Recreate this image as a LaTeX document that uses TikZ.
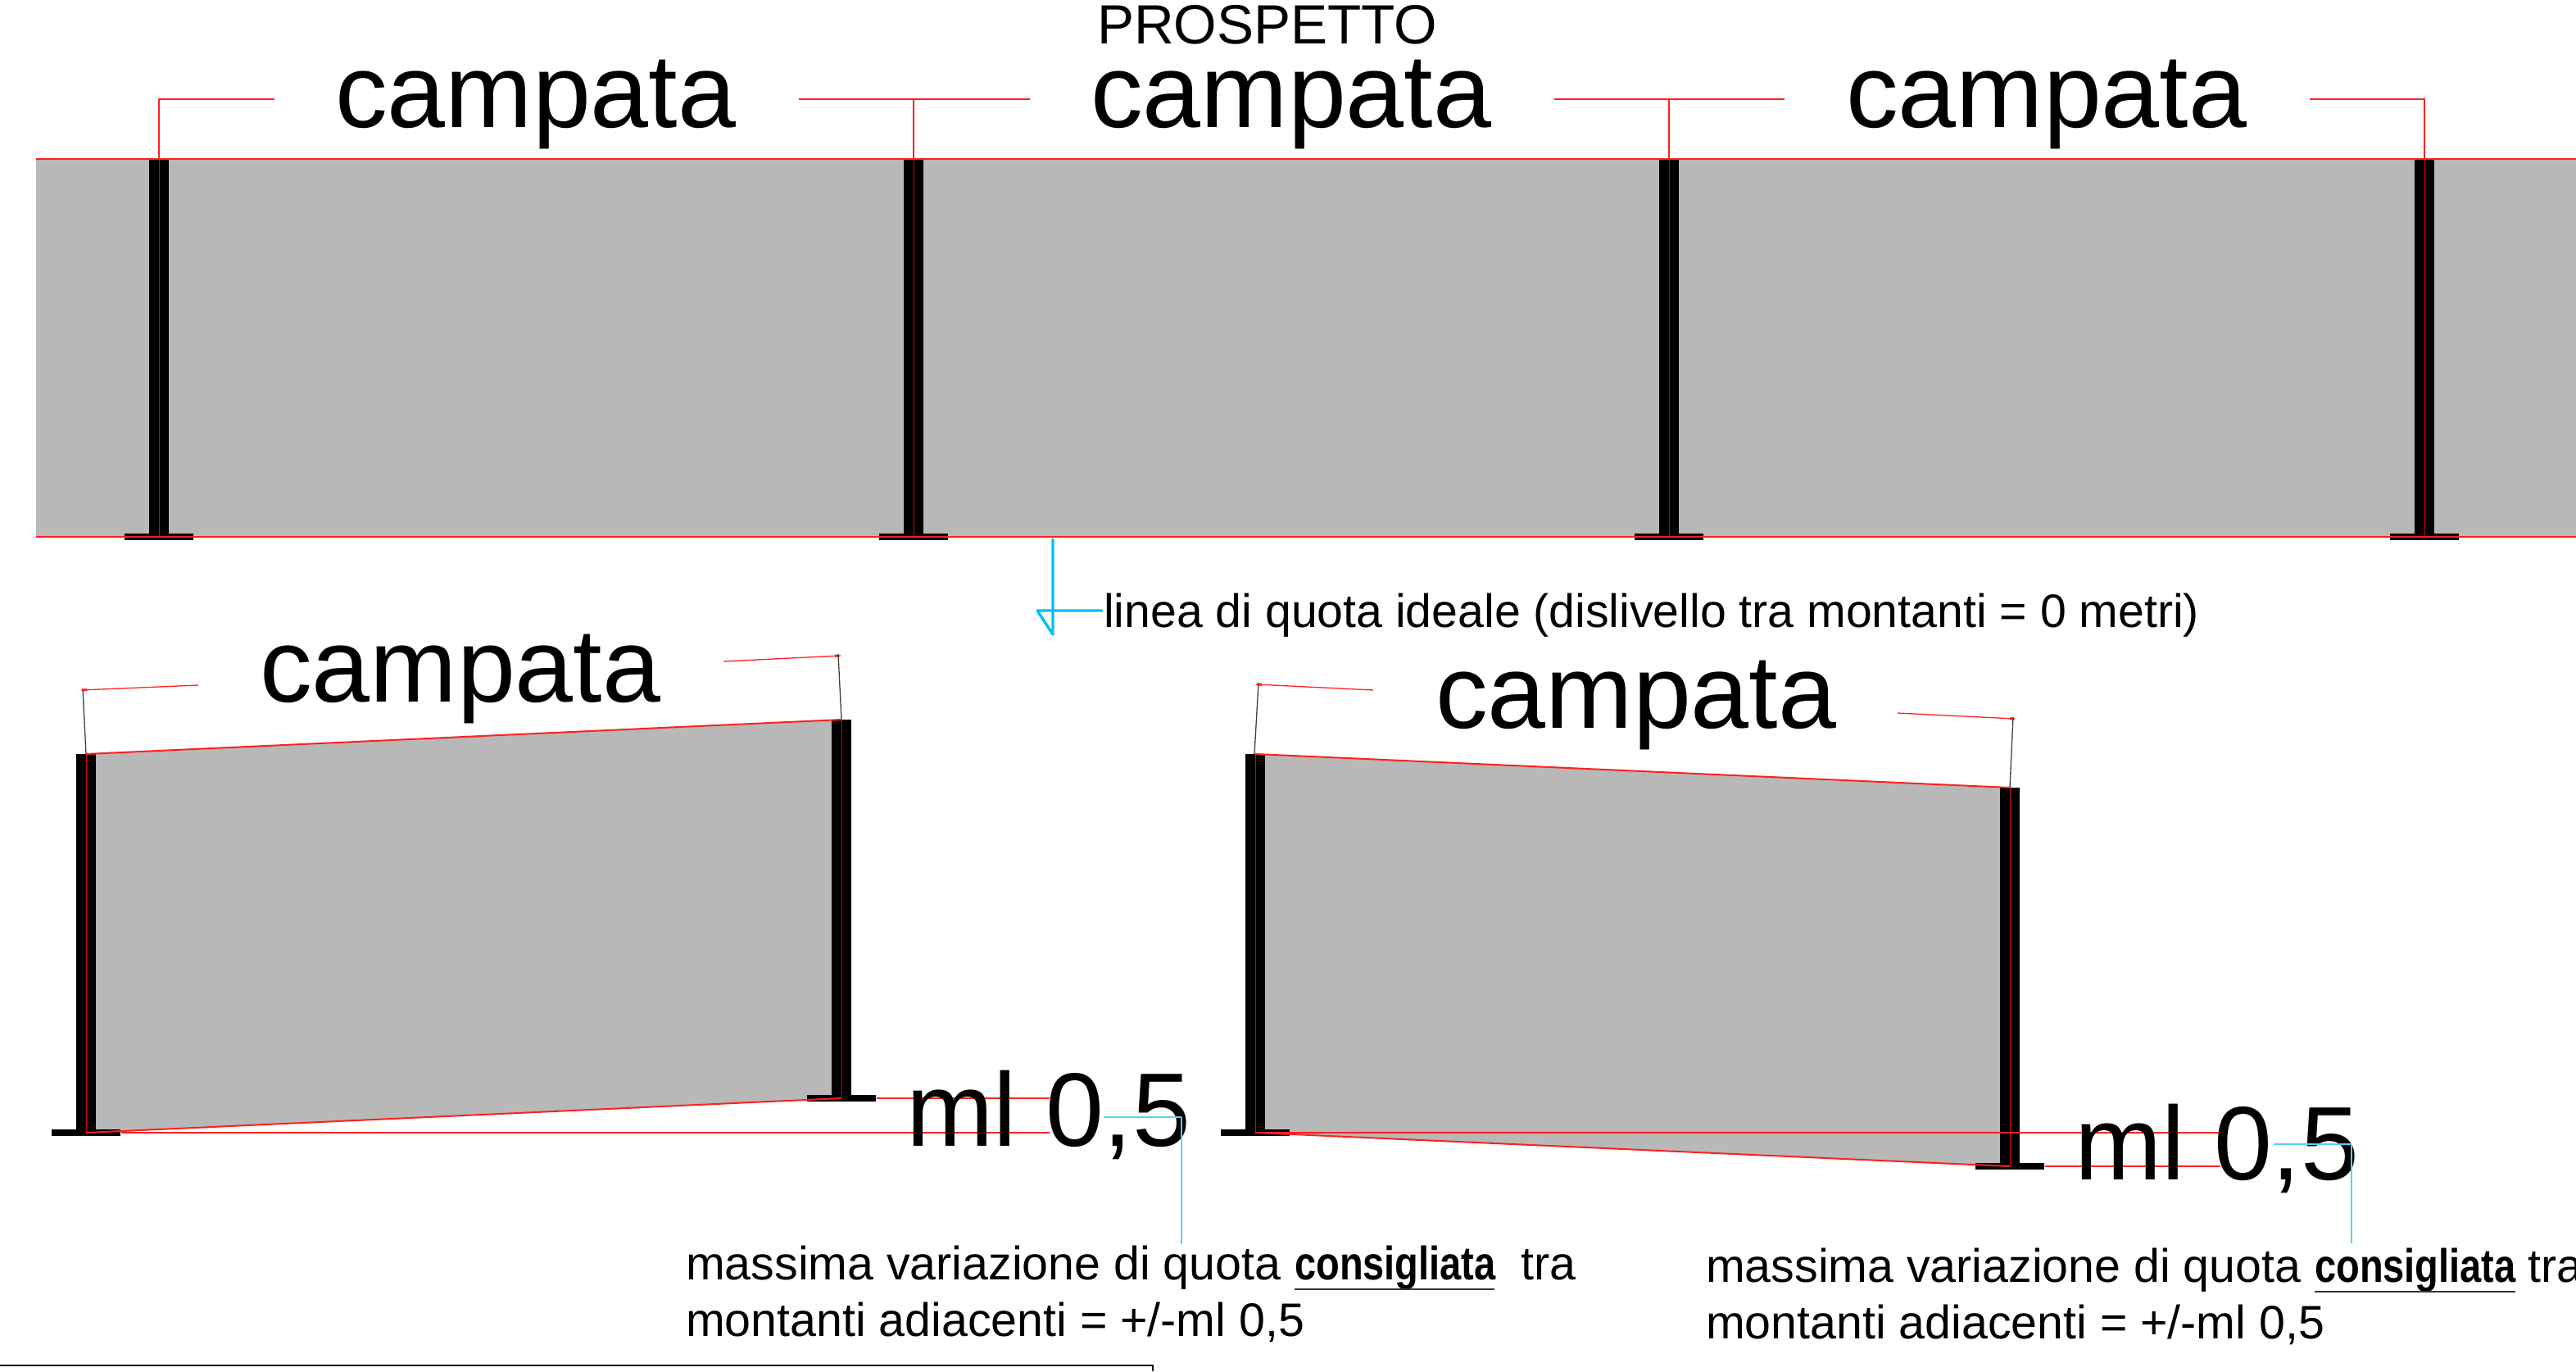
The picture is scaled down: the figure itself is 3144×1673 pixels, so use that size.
\documentclass[tikz,border=0pt]{standalone}
\usepackage{fontspec}
\setmainfont{Liberation Sans}
\newfontfamily\boldnarrow[FakeStretch=0.82]{Liberation Sans Bold}
\definecolor{panelgrey}{HTML}{B8B8B8}
\definecolor{dimred}{HTML}{FF2020}
\definecolor{postred}{HTML}{D80000}
\definecolor{arrowblue}{HTML}{00BFFF}
\definecolor{leadblue}{HTML}{5CCFF2}
\newcommand{\fsz}[1]{\fontsize{#1pt}{#1pt}\selectfont}
% post: centre x, top y, base top y
\newcommand{\mypost}[3]{%
  \fill[black] (#1-12,#2) rectangle (#1+12,#3);
  \fill[black] (#1-42,#3-4) rectangle (#1+42,#3+4);
  \draw[postline] (#1,#2) -- (#1,#3);
}
\tikzset{
  x=1pt,y=-1pt,
  panel/.style={fill=panelgrey,draw=none},
  postline/.style={draw=postred,line width=1pt},
  redthin/.style={draw=dimred,line width=1.3pt},
  redline/.style={draw=dimred,line width=2pt},
  ticktip/.style={draw=dimred,line width=3pt},
  greyline/.style={draw=black!75,line width=1.3pt},
  bigtext/.style={anchor=base west,inner sep=0pt,font=\fsz{127.5}},
  notetext/.style={anchor=base west,inner sep=0pt,font=\fsz{57.3}},
  boldtext/.style={anchor=base west,inner sep=0pt,font=\boldnarrow\fsz{57.3}},
  leadh/.style={draw=leadblue,line width=2.4pt},
  leadv/.style={draw=leadblue,line width=1.1pt},
  under/.style={draw=black!80,line width=1.5pt},
  arrowline/.style={draw=arrowblue,line width=3.4pt,line cap=round,line join=round},
}
\begin{document}
\begin{tikzpicture}
\useasboundingbox (0,0) rectangle (3144,1673);
\begin{scope}
\clip (0,0) rectangle (3144,1673);
% top band
\fill[panel] (44,194) rectangle (3144,655);
\foreach \px in {194,1115,2037,2959}{\mypost{\px}{194}{655}}
\draw[redline] (44,194) -- (3144,194);
\draw[redline] (44,655) -- (3144,655);
% top dimensions
\draw[redthin] (194,194) -- (194,121) -- (335,121);
\draw[redthin] (975,121) -- (1257,121);
\draw[redthin] (1115,121) -- (1115,194);
\draw[redthin] (1897,121) -- (2178,121);
\draw[redthin] (2037,121) -- (2037,194);
\draw[redthin] (2819,121) -- (2959,121) -- (2959,194);
\node[bigtext] (c1) at (409,155) {campata};
\node[bigtext] (c2) at (1331,155) {campata};
\node[bigtext] (c3) at (2253,155) {campata};
\node[anchor=base west,inner sep=0pt,font=\fsz{67.5}] (title) at (1339,53) {PROSPETTO};
% ideal line arrow
\node[anchor=base west,inner sep=0pt,font=\fsz{57.2}] (ideal) at (1347,765) {linea di quota ideale (dislivello tra montanti = 0 metri)};
\draw[arrowline] (1285,658) -- (1285,774) -- (1266,745) -- (1345,745);
% lower left panel
\fill[panel] (105,920) -- (1027,878) -- (1027,1340) -- (105,1382) -- cycle;
\mypost{105}{920}{1382}
\mypost{1027}{878}{1340}
\draw[redline] (105,920) -- (1027,878);
\draw[redline] (105,1382) -- (1027,1340);
\draw[redthin] (148,1382) -- (1281,1382);
\draw[redthin] (1070,1340) -- (1281,1340);
\draw[greyline] (105,920) -- (101,840);
\draw[redthin] (99,842) -- (242,836);
\draw[ticktip] (100,842) -- (106,841.7);
\draw[redthin] (883,807) -- (1026,800);
\draw[ticktip] (1019,800.3) -- (1024,800);
\draw[greyline] (1023,798) -- (1027,878);
\node[bigtext] (c4) at (317,856) {campata};
\node[bigtext] (m1) at (1106,1398) {ml 0,5};
\draw[leadh] (1347,1363) -- (1442,1363);
\draw[leadv] (1442,1363) -- (1442,1518);
\node[notetext] (n1) at (837,1561) {massima variazione di quota};
\node[boldtext] (b1) at (1580,1561) {consigliata};
\node[notetext] (t1) at (1856,1561) {tra};
\draw[under] (1580,1573) -- (1824,1573);
\node[notetext] (n2) at (837,1630) {montanti adiacenti = +/-ml 0,5};
% lower right panel
\fill[panel] (1532,920) -- (2453,961) -- (2453,1423) -- (1532,1382) -- cycle;
\mypost{1532}{920}{1382}
\mypost{2453}{961}{1423}
\draw[redline] (1532,920) -- (2453,961);
\draw[redline] (1532,1382) -- (2453,1423);
\draw[redthin] (1532,1382) -- (2710,1382);
\draw[redthin] (2496,1423) -- (2710,1423);
\draw[greyline] (1531,920) -- (1536,833);
\draw[redthin] (1533,835) -- (1676,842);
\draw[ticktip] (1534,835) -- (1540,835.3);
\draw[redthin] (2316,870) -- (2459,877);
\draw[ticktip] (2453,876.7) -- (2458,877);
\draw[greyline] (2457,875) -- (2453,961);
\node[bigtext] (c5) at (1752,888) {campata};
\node[bigtext] (m2) at (2532,1439) {ml 0,5};
\draw[leadh] (2775,1396) -- (2870,1396);
\draw[leadv] (2870,1396) -- (2870,1517);
\node[notetext] (n3) at (2082,1564) {massima variazione di quota};
\node[boldtext] (b2) at (2825,1564) {consigliata};
\node[notetext] (t2) at (3085,1564) {tra};
\draw[under] (2825,1576) -- (3070,1576);
\node[notetext] (n4) at (2082,1633) {montanti adiacenti = +/-ml 0,5};
% bottom frame
\draw[black,line width=2pt] (0,1666) -- (1407,1666) -- (1407,1673);
\end{scope}
\end{tikzpicture}
\end{document}
